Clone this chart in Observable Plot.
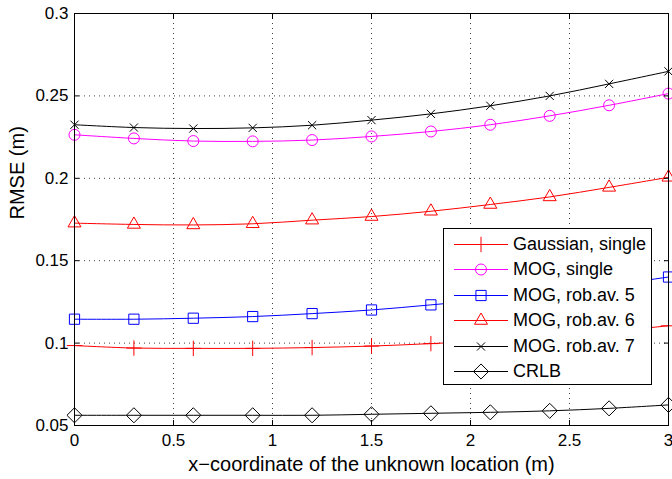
<!DOCTYPE html>
<html><head><meta charset="utf-8">
<script src="https://cdn.jsdelivr.net/npm/d3@7"></script>
<script src="https://cdn.jsdelivr.net/npm/@observablehq/plot@0.6"></script>
<style>
body{margin:0;background:#fff;font-family:"Liberation Sans",Arial,sans-serif;}
#wrap{position:relative;width:672px;height:479px;}
#legend{position:absolute;left:443px;top:228px;width:207px;height:155px;border:1px solid #000;background:#fff;}
#legend .row{position:absolute;left:0;height:25px;display:flex;align-items:center;font-size:18px;color:#000;white-space:nowrap;}
#legend svg{display:block;}
</style></head><body><div id="wrap"></div>
<script>
const xs = [0, 0.3, 0.6, 0.9, 1.2, 1.5, 1.8, 2.1, 2.4, 2.7, 3.0];
const gaussianSingle = [0.0985, 0.0970, 0.0968, 0.0968, 0.0973, 0.0982, 0.0997, 0.1015, 0.1040, 0.1070, 0.1105];
const mogSingle      = [0.2264, 0.2242, 0.2226, 0.2224, 0.2232, 0.2254, 0.2284, 0.2325, 0.2379, 0.2443, 0.2514];
const mogRob5        = [0.1145, 0.1145, 0.1151, 0.1161, 0.1179, 0.1201, 0.1232, 0.1265, 0.1305, 0.1350, 0.1401];
const mogRob6        = [0.1728, 0.1720, 0.1717, 0.1724, 0.1746, 0.1768, 0.1800, 0.1841, 0.1887, 0.1945, 0.2006];
const mogRob7        = [0.2325, 0.2308, 0.2302, 0.2306, 0.2322, 0.2353, 0.2391, 0.2440, 0.2500, 0.2573, 0.2649];
const crlb           = [0.0562, 0.0562, 0.0562, 0.0562, 0.0562, 0.0568, 0.0574, 0.0580, 0.0589, 0.0604, 0.0625];

const seriesNames = ["Gaussian, single", "MOG, single", "MOG, rob.av. 5", "MOG, rob.av. 6", "MOG. rob.av. 7", "CRLB"];
const seriesValues = [gaussianSingle, mogSingle, mogRob5, mogRob6, mogRob7, crlb];
const seriesColors = ["#ff0000", "#ff00ff", "#0000ff", "#ff0000", "#000000", "#000000"];
const seriesSymbols = ["plus", "circle", "square2", "triangle2", "times", "diamond2"];
const seriesMarkerR = [5, 5.5, 6.5, 6.2, 3.8, 6.8];

const xTicks = [0, 0.5, 1, 1.5, 2, 2.5, 3];
const yTicks = [0.05, 0.1, 0.15, 0.2, 0.25, 0.3];
const xLabel = "x\u2212coordinate of the unknown location (m)";
const yLabel = "RMSE (m)";

const tables = seriesNames.map((n, i) => xs.map((x, j) => ({series: n, x, y: seriesValues[i][j]})));

const grid = {stroke: "#000", strokeOpacity: 0.75, strokeDasharray: "1,4", strokeWidth: 1};
const font = "'Liberation Sans', Arial, sans-serif";

const chart = Plot.plot({
  width: 672, height: 479,
  marginLeft: 74, marginRight: 4, marginTop: 13, marginBottom: 54,
  style: {fontFamily: font, fontSize: "17px", background: "white", color: "#000"},
  x: {domain: [0, 3]},
  y: {domain: [0.05, 0.3]},
  marks: [
    Plot.ruleX(xTicks, grid),
    Plot.ruleY(yTicks, grid),
    ...tables.map((t, i) => Plot.line(t, {x: "x", y: "y", stroke: seriesColors[i], curve: "catmull-rom", strokeWidth: 1})),
    ...tables.map((t, i) => Plot.dot(t, {x: "x", y: "y", stroke: seriesColors[i], symbol: seriesSymbols[i], r: seriesMarkerR[i], fill: "none", strokeWidth: 1})),
    Plot.axisX({ticks: xTicks, tickSize: 0, tickPadding: 8, tickFormat: d => String(d), fontSize: 17, label: null}),
    Plot.axisY({ticks: yTicks, tickSize: 0, tickPadding: 6, tickFormat: d => String(d), fontSize: 17, label: null}),
    Plot.axisX({ticks: xTicks, anchor: "bottom", tickSize: 5, dy: -5, tickFormat: () => "", label: null}),
    Plot.axisX({ticks: xTicks, anchor: "top", tickSize: 5, dy: 5, tickFormat: () => "", label: null}),
    Plot.axisY({ticks: yTicks, anchor: "left", tickSize: 5, dx: 5, tickFormat: () => "", label: null}),
    Plot.axisY({ticks: yTicks, anchor: "right", tickSize: 5, dx: -5, tickFormat: () => "", label: null}),
    Plot.text([xLabel], {text: d => d, frameAnchor: "bottom", dy: 45, fontSize: 20, fill: "#000"}),
    Plot.text([yLabel], {text: d => d, frameAnchor: "left", dx: -57, rotate: -90, fontSize: 20, fill: "#000"}),
    Plot.frame({stroke: "#000", strokeWidth: 1})
  ]
});
const wrap = document.getElementById("wrap");
wrap.appendChild(chart);

// legend
const legend = document.createElement("div");
legend.id = "legend";
const symMap = {plus: d3.symbolPlus, circle: d3.symbolCircle, square2: d3.symbolSquare2, triangle2: d3.symbolTriangle2, times: d3.symbolTimes, diamond2: d3.symbolDiamond2};
seriesNames.forEach((n, i) => {
  const row = document.createElement("div");
  row.className = "row";
  row.style.top = (3 + i * 25.4) + "px";
  const s = d3.create("svg").attr("width", 69).attr("height", 25);
  s.append("line").attr("x1", 10).attr("x2", 64).attr("y1", 12.5).attr("y2", 12.5).attr("stroke", seriesColors[i]).attr("stroke-width", 1);
  const r = seriesMarkerR[i];
  s.append("path").attr("d", d3.symbol(symMap[seriesSymbols[i]], Math.PI * r * r)()).attr("transform", "translate(37,12.5)")
    .attr("fill", "none").attr("stroke", seriesColors[i]).attr("stroke-width", 1);
  row.appendChild(s.node());
  const t = document.createElement("span");
  t.textContent = n;
  row.appendChild(t);
  legend.appendChild(row);
});
wrap.appendChild(legend);
</script>
</body></html>
